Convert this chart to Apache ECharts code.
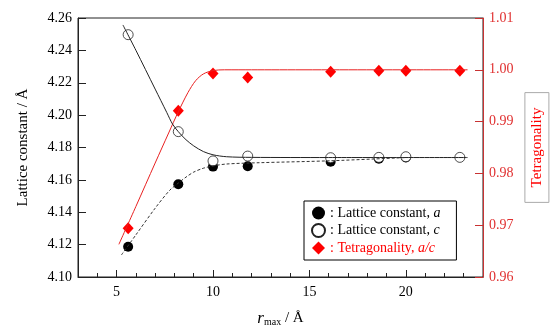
<!DOCTYPE html>
<html>
<head>
<meta charset="utf-8">
<script src="https://cdn.jsdelivr.net/npm/echarts@6/dist/echarts.min.js"></script>
<style>
  html, body { margin: 0; padding: 0; background: #fff; }
  #chart { width: 550px; height: 328px; }
</style>
</head>
<body>
<div id="chart"></div>
<script>
// measured points
const rA = [5.6, 8.2, 10.0, 11.8, 16.1, 18.6, 20.0];
const latA = [4.1187, 4.1573, 4.1682, 4.1684, 4.1712, 4.1730, 4.1738];
const rC = [5.6, 8.2, 10.0, 11.8, 16.1, 18.6, 20.0, 22.8];
const latC = [4.2497, 4.1898, 4.1717, 4.1747, 4.1737, 4.1739, 4.1743, 4.1739];
const rT = [5.6, 8.2, 10.0, 11.8, 16.1, 18.6, 20.0, 22.8];
const tetra = [0.9694, 0.9921, 0.9993, 0.9985, 0.9996, 0.9998, 0.9998, 0.9998];

// guide curves
const fitAX = [5.25, 6.0, 7.0, 7.75, 8.2, 8.6, 9.0, 9.5, 10.0, 10.7, 12.4, 16.1, 20.0];
const fitAY = [4.1136, 4.1260, 4.1425, 4.1535, 4.1580, 4.1617, 4.1648, 4.1672, 4.1686, 4.1698, 4.1706, 4.1718, 4.1738];
const fitCX = [5.33, 6.0, 7.0, 7.6, 7.9, 8.2, 8.6, 9.0, 9.5, 10.0, 10.7, 12.0, 16.0, 23.2];
const fitCY = [4.2557, 4.2401, 4.2161, 4.2017, 4.1945, 4.1898, 4.1848, 4.1810, 4.1775, 4.1755, 4.1743, 4.1739, 4.1738, 4.1738];
const fitTX = [5.12, 6.0, 7.0, 7.7, 8.2, 8.7, 9.1, 9.5, 10.0, 10.6, 12.0, 23.2];
const fitTY = [0.9663, 0.9736, 0.9820, 0.9878, 0.9919, 0.9956, 0.9979, 0.9992, 0.99985, 1.0, 1.0, 1.0];

const majorTicks = [5, 10, 15, 20];
const minorTicks = [4, 6, 7, 8, 9, 11, 12, 13, 14, 16, 17, 18, 19, 21, 22, 23];

const font = "'Liberation Serif', 'Times New Roman', serif";
const red = "#ff0000";
const axisRed = "#c83232";

const zip = (xs, ys) => xs.map((x, i) => [x, ys[i]]);

const chart = echarts.init(document.getElementById("chart"));
const option = {
  animation: false,
  textStyle: { fontFamily: font },
  grid: {
    left: 78,
    right: 67,
    top: 18,
    bottom: 51,
    outerBoundsMode: "none",
    show: true,
    borderColor: "#222",
    borderWidth: 1
  },
  legend: {
    left: 304,
    top: 201,
    orient: "vertical",
    padding: [5, 16, 5, 7],
    itemGap: 3,
    itemWidth: 13,
    itemHeight: 13,
    itemTextGap: 5,
    borderColor: "#000",
    borderWidth: 1,
    textStyle: {
      fontFamily: font,
      fontSize: 14,
      color: "#000",
      rich: {
        i: { fontFamily: font, fontSize: 14, fontStyle: "italic" }
      }
    },
    formatter(name) {
      if (name === "a") return ": Lattice constant, {i|a}";
      if (name === "c") return ": Lattice constant, {i|c}";
      return ": Tetragonality, {i|a/c}";
    },
    data: [
      { name: "a", icon: "circle" },
      { name: "c", icon: "circle" },
      {
        name: "t",
        icon: "diamond",
        textStyle: {
          color: red,
          rich: { i: { fontFamily: font, fontSize: 14, fontStyle: "italic", color: red } }
        }
      }
    ]
  },
  xAxis: [
    {
      type: "value",
      min: 3,
      max: 24,
      position: "bottom",
      name: "{i|r}{s|max}{n| / Å}",
      nameLocation: "middle",
      nameGap: 33,
      nameTextStyle: {
        rich: {
          i: { fontFamily: font, fontSize: 17, fontStyle: "italic", color: "#000" },
          s: { fontFamily: font, fontSize: 10, color: "#000", padding: [7, 0, 0, 0] },
          n: { fontFamily: font, fontSize: 15, color: "#000" }
        }
      },
      axisLine: { show: true, lineStyle: { color: "#222", width: 1 } },
      axisTick: { show: true, inside: true, length: 7, customValues: majorTicks, lineStyle: { color: "#222" } },
      axisLabel: { customValues: majorTicks, fontFamily: font, fontSize: 14, color: "#000", margin: 8 },
      splitLine: { show: false }
    },
    {
      type: "value",
      min: 3,
      max: 24,
      position: "bottom",
      axisLine: { show: false },
      axisTick: { show: true, inside: true, length: 4, customValues: minorTicks, lineStyle: { color: "#222" } },
      axisLabel: { show: false },
      splitLine: { show: false }
    }
  ],
  yAxis: [
    {
      type: "value",
      min: 4.1,
      max: 4.26,
      interval: 0.02,
      position: "left",
      name: "Lattice constant / Å",
      nameLocation: "middle",
      nameGap: 47,
      nameTextStyle: { fontFamily: font, fontSize: 15, color: "#000" },
      axisLine: { show: true, lineStyle: { color: "#222" } },
      axisTick: { show: true, inside: true, length: 8, lineStyle: { color: "#222" } },
      axisLabel: {
        fontFamily: font,
        fontSize: 14,
        color: "#000",
        margin: 6,
        formatter: v => v.toFixed(2)
      },
      splitLine: { show: false }
    },
    {
      type: "value",
      min: 0.96,
      max: 1.01,
      interval: 0.01,
      position: "right",
      name: "Tetragonality",
      nameLocation: "middle",
      nameRotate: 90,
      nameGap: 40,
      nameTextStyle: {
        fontFamily: font,
        fontSize: 15,
        color: red,
        borderColor: "#aaa",
        borderWidth: 1,
        padding: [5, 15, 4, 15]
      },
      axisLine: { show: true, lineStyle: { color: axisRed } },
      axisTick: { show: true, inside: true, length: 8, lineStyle: { color: axisRed } },
      axisLabel: {
        fontFamily: font,
        fontSize: 14,
        color: "#e03030",
        margin: 6,
        formatter: v => v.toFixed(2)
      },
      splitLine: { show: false }
    }
  ],
  series: [
    {
      name: "fitT",
      type: "line",
      yAxisIndex: 1,
      data: zip(fitTX, fitTY),
      showSymbol: false,
      smooth: 0.3,
      lineStyle: { color: "#e82020", width: 1 },
      silent: true
    },
    {
      name: "fitC",
      type: "line",
      data: zip(fitCX, fitCY),
      showSymbol: false,
      smooth: 0.3,
      lineStyle: { color: "#222", width: 1 },
      silent: true
    },
    {
      name: "fitA",
      type: "line",
      data: zip(fitAX, fitAY),
      showSymbol: false,
      smooth: 0.3,
      lineStyle: { color: "#333", width: 1, type: [3, 2] },
      silent: true
    },
    {
      name: "a",
      type: "scatter",
      data: zip(rA, latA),
      symbol: "circle",
      symbolSize: 10,
      itemStyle: { color: "#000", opacity: 1 }
    },
    {
      name: "c",
      type: "scatter",
      data: zip(rC, latC),
      symbol: "circle",
      symbolSize: 10,
      itemStyle: { color: "#fff", borderColor: "#222", borderWidth: 0.8, opacity: 1 }
    },
    {
      name: "t",
      type: "scatter",
      yAxisIndex: 1,
      data: zip(rT, tetra),
      symbol: "diamond",
      symbolSize: [11, 12],
      itemStyle: { color: red, opacity: 1 }
    }
  ]
};
chart.setOption(option);
</script>
</body>
</html>
